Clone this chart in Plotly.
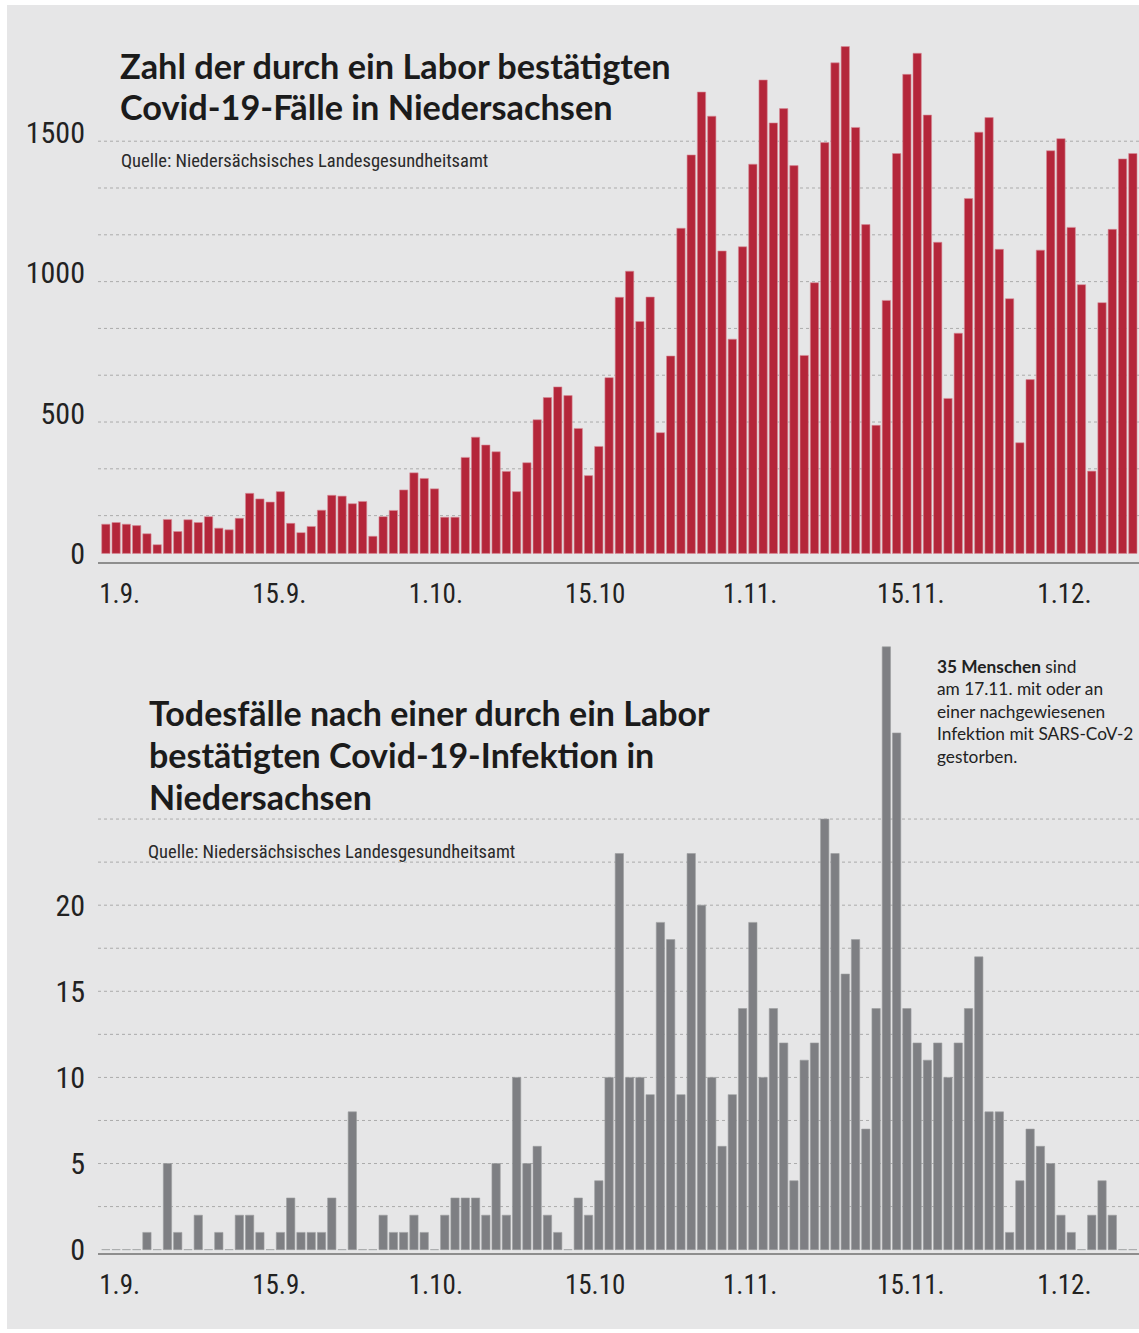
import pandas as pd
import plotly.graph_objects as go

# ---------------- data ----------------
dates = pd.date_range("2020-09-01", "2020-12-10", freq="D")

cases = [104, 110, 104, 99, 70, 31, 121, 78, 120, 110,
         131, 90, 84, 125, 214, 194, 183, 220, 107, 74,
         96, 154, 207, 204, 177, 185, 61, 131, 153, 226,
         287, 267, 230, 129, 129, 342, 414, 386, 362, 292,
         220, 323, 476, 555, 593, 562, 445, 277, 381, 626,
         912, 1005, 826, 913, 430, 703, 1158, 1419, 1643, 1557,
         1077, 763, 1092, 1386, 1686, 1533, 1584, 1381, 705, 964,
         1463, 1747, 1805, 1517, 1171, 456, 901, 1424, 1706, 1781,
         1561, 1108, 552, 784, 1264, 1500, 1552, 1083, 907, 394,
         619, 1080, 1434, 1477, 1161, 957, 293, 893, 1154, 1405,
         1424]

deaths = [0, 0, 0, 0, 1, 0, 5, 1, 0, 2,
          0, 1, 0, 2, 2, 1, 0, 1, 3, 1,
          1, 1, 3, 0, 8, 0, 0, 2, 1, 1,
          2, 1, 0, 2, 3, 3, 3, 2, 5, 2,
          10, 5, 6, 2, 1, 0, 3, 2, 4, 10,
          23, 10, 10, 9, 19, 18, 9, 23, 20, 10,
          6, 9, 14, 19, 10, 14, 12, 4, 11, 12,
          25, 23, 16, 18, 7, 14, 35, 30, 14, 12,
          11, 12, 10, 12, 14, 17, 8, 8, 1, 4,
          7, 6, 5, 2, 1, 0, 2, 4, 2, 0,
          0]

x_tick_dates = ["2020-09-01", "2020-09-15", "2020-10-01", "2020-10-15",
                "2020-11-01", "2020-11-15", "2020-12-01"]
x_tick_text = ["1.9.", "15.9.", "1.10.", "15.10", "1.11.", "15.11.", "1.12."]

cases_ticks = [0, 500, 1000, 1500]
deaths_ticks = [0, 5, 10, 15, 20]

title_top_lines = ["Zahl der durch ein Labor bestätigten",
                   "Covid-19-Fälle in Niedersachsen"]
title_bottom_lines = ["Todesfälle nach einer durch ein Labor",
                      "bestätigten Covid-19-Infektion in",
                      "Niedersachsen"]
source = "Quelle: Niedersächsisches Landesgesundheitsamt"
note = ("<b>35 Menschen</b> sind<br>am 17.11. mit oder an<br>einer nachgewiesenen<br>"
        "Infektion mit SARS-CoV-2<br>gestorben.")

# ---------------- layout helpers ----------------
W = 1139          # figure width
REF_H = 1333      # height of the design grid (reference picture)
H_FIG = 1348      # figure height (the page is captured at this height)
NARROW = "Roboto Condensed, Liberation Sans Narrow, Arial Narrow, sans-serif"
TITLE_FONT = "Lato, Roboto, sans-serif"
NOTE_FONT = "Lato, Roboto, sans-serif"
TXT = "#222222"


def fx(px):
    return px / W


def fy(py):
    return 1 - py / REF_H


day = pd.Timedelta(days=1)
t0 = pd.Timestamp("2020-09-01")
x_range = [str(t0 - 0.764 * day), str(t0 + 100.6 * day)]
# where each label's text starts, in days relative to its date
tick_shift = [-0.74, 0.15, -0.6, 0.6, -1.0, 0.0, -0.4]
tickvals = [pd.Timestamp(d) + s * day for d, s in zip(x_tick_dates, tick_shift)]

# panel geometry on the design grid
top_px = dict(top=40, bottom=562, zero=553, scale=140.3 / 500)
bot_px = dict(top=640, bottom=1252.3, zero=1248.7, scale=17.21)


def yrange(g):
    return [-(g["bottom"] - g["zero"]) / g["scale"], (g["zero"] - g["top"]) / g["scale"]]


fig = go.Figure()
fig.add_trace(go.Bar(
    x=dates, y=cases, xaxis="x", yaxis="y",
    marker=dict(color="#b4263a", line=dict(color="#d88d98", width=0.6)),
    hoverinfo="x+y",
))
fig.add_trace(go.Bar(
    x=dates, y=deaths, xaxis="x2", yaxis="y2",
    marker=dict(color="#7e7f83", line=dict(color="#9c9da0", width=0.6)),
    hoverinfo="x+y",
))

xcommon = dict(
    type="date", range=x_range, showgrid=False, zeroline=False,
    showline=True, linecolor="#8e8e8e", linewidth=2,
    tickmode="array", tickvals=tickvals, ticktext=x_tick_text,
    ticks="", ticklabelposition="outside right", ticklabelstandoff=6,
    tickfont=dict(family=NARROW, size=27, color=TXT),
)
ycommon = dict(
    showgrid=False, zeroline=False, showline=False, ticks="",
    ticklabelstandoff=12, tickfont=dict(family=NARROW, size=30, color=TXT),
    tickmode="array",
)

shapes = [dict(type="rect", xref="paper", yref="paper",
               x0=fx(7), x1=1, y0=fy(1328), y1=fy(5),
               fillcolor="#e6e6e7", line=dict(width=0), layer="below")]
# dotted guide lines: top panel every 1/3 label step counted from the axis line
top_floor = yrange(top_px)[0]
for i in range(1, 10):
    v = top_floor + 500 / 3 * i
    shapes.append(dict(type="line", xref="x domain", yref="y", x0=0, x1=1, y0=v, y1=v,
                       line=dict(color="#ababab", width=1, dash="dot"), layer="below"))
for i in range(1, 11):
    v = 2.5 * i
    shapes.append(dict(type="line", xref="x2 domain", yref="y2", x0=0, x1=1, y0=v, y1=v,
                       line=dict(color="#ababab", width=1, dash="dot"), layer="below"))


def text_ann(text, px, py, family, size, color="#1b1b1b"):
    return dict(text=text, x=fx(px), y=fy(py), xref="paper", yref="paper",
                xanchor="left", yanchor="middle", align="left", showarrow=False,
                font=dict(family=family, size=size, color=color))


annotations = []
for i, line in enumerate(title_top_lines):
    annotations.append(text_ann("<b>%s</b>" % line, 118, 65 + 41.5 * i, TITLE_FONT, 34.3))
for i, line in enumerate(title_bottom_lines):
    annotations.append(text_ann("<b>%s</b>" % line, 147, 712 + 42 * i, TITLE_FONT, 34.0))
annotations.append(text_ann(source, 119, 161, NARROW, 18.5, "#2a2a2a"))
annotations.append(text_ann(source, 146, 851, NARROW, 18.5, "#2a2a2a"))
annotations.append(text_ann(note, 935, 711, NOTE_FONT, 17.3, "#222222"))

fig.update_layout(
    width=W, height=H_FIG,
    margin=dict(l=0, r=0, t=0, b=0),
    paper_bgcolor="#ffffff",
    plot_bgcolor="rgba(0,0,0,0)",
    showlegend=False,
    bargap=0.19,
    xaxis=dict(domain=[fx(98), 1], anchor="y", **xcommon),
    yaxis=dict(domain=[fy(top_px["bottom"]), fy(top_px["top"])], anchor="x",
               range=yrange(top_px), tickvals=cases_ticks,
               ticktext=[str(v) for v in cases_ticks], **ycommon),
    xaxis2=dict(domain=[fx(98), 1], anchor="y2", **xcommon),
    yaxis2=dict(domain=[fy(bot_px["bottom"]), fy(bot_px["top"])], anchor="x2",
                range=yrange(bot_px), tickvals=deaths_ticks,
                ticktext=[str(v) for v in deaths_ticks], **ycommon),
    shapes=shapes,
    annotations=annotations,
)

page_fix = (
    "document.documentElement.style.margin='0';"
    "document.documentElement.style.overflow='hidden';"
    "document.body.style.margin='0';"
    "document.body.style.overflow='hidden';"
    "var gd=document.querySelector('.plotly-graph-div');"
    "if(gd){gd.style.position='fixed';gd.style.left='0';gd.style.top='0';}"
)

fig.write_html("out.html", config={"displayModeBar": False}, post_script=page_fix)
